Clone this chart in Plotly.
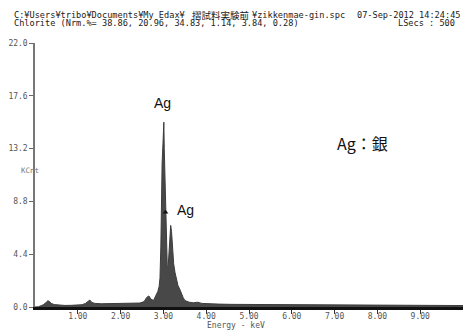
import plotly.graph_objects as go

energy_kev = [0.00, 0.08, 0.15, 0.20, 0.26, 0.30, 0.34, 0.38, 0.45, 0.55, 0.70, 0.85, 1.00,
              1.10, 1.18, 1.24, 1.28, 1.33, 1.40, 1.55, 1.70, 1.90, 2.10, 2.30, 2.45,
              2.55, 2.61, 2.66, 2.71, 2.77, 2.83, 2.87, 2.90, 2.92, 2.94, 2.95, 2.97,
              2.99, 3.01, 3.02, 3.04, 3.05, 3.07, 3.09, 3.11, 3.13, 3.15, 3.17, 3.19,
              3.21, 3.24, 3.27, 3.30, 3.34, 3.38, 3.42, 3.46, 3.50, 3.60, 3.70, 3.80,
              3.90, 4.00, 4.30, 4.60, 5.00, 5.50, 6.00, 6.50, 7.00, 7.50, 8.00, 8.50,
              9.00, 9.50, 10.00]
counts_kcnt = [0.00, 0.02, 0.12, 0.20, 0.38, 0.52, 0.45, 0.30, 0.20, 0.15, 0.13, 0.14, 0.16,
               0.19, 0.30, 0.52, 0.58, 0.38, 0.30, 0.27, 0.28, 0.28, 0.30, 0.31, 0.33,
               0.45, 0.80, 0.92, 0.65, 0.55, 0.95, 1.30, 1.70, 2.40, 5.0, 8.0, 12.0,
               13.6, 15.4, 13.2, 9.6, 7.9, 4.6, 3.4, 3.3, 4.6, 6.2, 6.8, 6.3,
               5.0, 3.6, 2.9, 2.3, 1.8, 1.5, 1.1, 0.8, 0.55, 0.40, 0.35, 0.40,
               0.30, 0.27, 0.24, 0.22, 0.21, 0.19, 0.18, 0.17, 0.16, 0.15, 0.14, 0.14,
               0.13, 0.13, 0.12]

y_ticks = [0.0, 4.4, 8.8, 13.2, 17.6, 22.0]
y_tick_text = ["0.0", "4.4", "8.8", "13.2", "17.6", "22.0"]
x_ticks = [1, 2, 3, 4, 5, 6, 7, 8, 9, 10]
x_tick_text = ["1.00", "2.00", "3.00", "4.00", "5.00", "6.00", "7.00", "8.00", "9.00", "10.00"]

header1_a = "C:¥Users¥tribo¥Documents¥My Edax¥"
header1_jp = "摺試料実験前"
header1_b = "¥zikkenmae-gin.spc"
header1_right = "07-Sep-2012 14:24:45"
header2 = "Chlorite (Nrm.%= 38.86, 20.96, 34.83, 1.14, 3.84, 0.28)"
header2_right = "LSecs : 500"

mono = "DejaVu Sans Mono, Liberation Mono, monospace"
cjk = "Noto Sans CJK JP, sans-serif"
sans = "Liberation Sans, Arial, sans-serif"

W, H = 463, 331
L, R, T, B = 35, 0, 43, 24
PW, PH = W - L - R, H - T - B


def px(x):
    return (x - L) / PW


def py(y):
    return (H - B - y) / PH


fig = go.Figure()
fig.add_trace(go.Scatter(
    x=energy_kev, y=counts_kcnt, mode="lines", fill="tozeroy",
    line=dict(color="#3c3c3c", width=1), fillcolor="#484848",
    hoverinfo="skip", showlegend=False))

fig.add_trace(go.Scatter(
    x=[3.05], y=[7.9], mode="markers",
    marker=dict(symbol="triangle-up", size=5, color="#111"),
    hoverinfo="skip", showlegend=False))

fig.update_layout(
    width=W, height=H,
    margin=dict(l=L, r=R, t=T, b=B),
    paper_bgcolor="white", plot_bgcolor="white",
    xaxis=dict(range=[0, 10], showgrid=False, zeroline=False, automargin=False,
               showline=True, linecolor="#111", linewidth=2.5,
               ticks="outside", ticklen=4, tickcolor="#333", tickwidth=1,
               tickvals=x_ticks, ticktext=x_tick_text, ticklabelstandoff=-4,
               tickfont=dict(family=mono, size=8, color="#555")),
    yaxis=dict(range=[0, 22], showgrid=False, zeroline=False, automargin=False,
               showline=True, linecolor="#777", linewidth=1.5,
               ticks="outside", ticklen=4, tickcolor="#666", tickwidth=1,
               tickvals=y_ticks, ticktext=y_tick_text,
               tickfont=dict(family=mono, size=8, color="#555")),
)

ann = [
    dict(x=13, y=15.5, text=header1_a, font=mono, size=8.6, anchor="left"),
    dict(x=191, y=15.5, text=header1_jp, font=cjk, size=9.5, anchor="left"),
    dict(x=251, y=15.5, text=header1_b, font=mono, size=8.6, anchor="left"),
    dict(x=356, y=15.5, text=header1_right, font=mono, size=8.6, anchor="left"),
    dict(x=13, y=23.5, text=header2, font=mono, size=8.6, anchor="left"),
    dict(x=456, y=23.5, text=header2_right, font=mono, size=8.6, anchor="right"),
]
for a in ann:
    fig.add_annotation(x=px(a["x"]), y=py(a["y"]), xref="paper", yref="paper",
                       text=a["text"], xanchor=a["anchor"], yanchor="middle",
                       showarrow=False, borderpad=0,
                       font=dict(family=a["font"], size=a["size"], color="#1a1a1a"))

fig.add_annotation(x=px(19), y=py(170), xref="paper", yref="paper", text="KCnt",
                   showarrow=False, font=dict(family=mono, size=7.5, color="#777"))
fig.add_annotation(x=px(236), y=py(331), xref="paper", yref="paper",
                   text="Energy - keV", showarrow=False, yanchor="bottom", borderpad=0,
                   font=dict(family=mono, size=8, color="#555"))

fig.add_annotation(x=2.98, y=17.0, xref="x", yref="y", text="Ag", showarrow=False,
                   bgcolor="white", font=dict(family=sans, size=14, color="#111"))
fig.add_annotation(x=px(185), y=py(210), xref="paper", yref="paper", text="Ag",
                   showarrow=False, bgcolor="white",
                   font=dict(family=sans, size=14, color="#111"))
fig.add_annotation(x=px(335), y=py(143), xref="paper", yref="paper",
                   text="Ag：銀", showarrow=False, xanchor="left",
                   font=dict(family=cjk + ", " + sans, size=16, color="#111"))

fig.write_html("out.html", config={"displayModeBar": False},
               post_script="document.body.style.margin='0px';")
